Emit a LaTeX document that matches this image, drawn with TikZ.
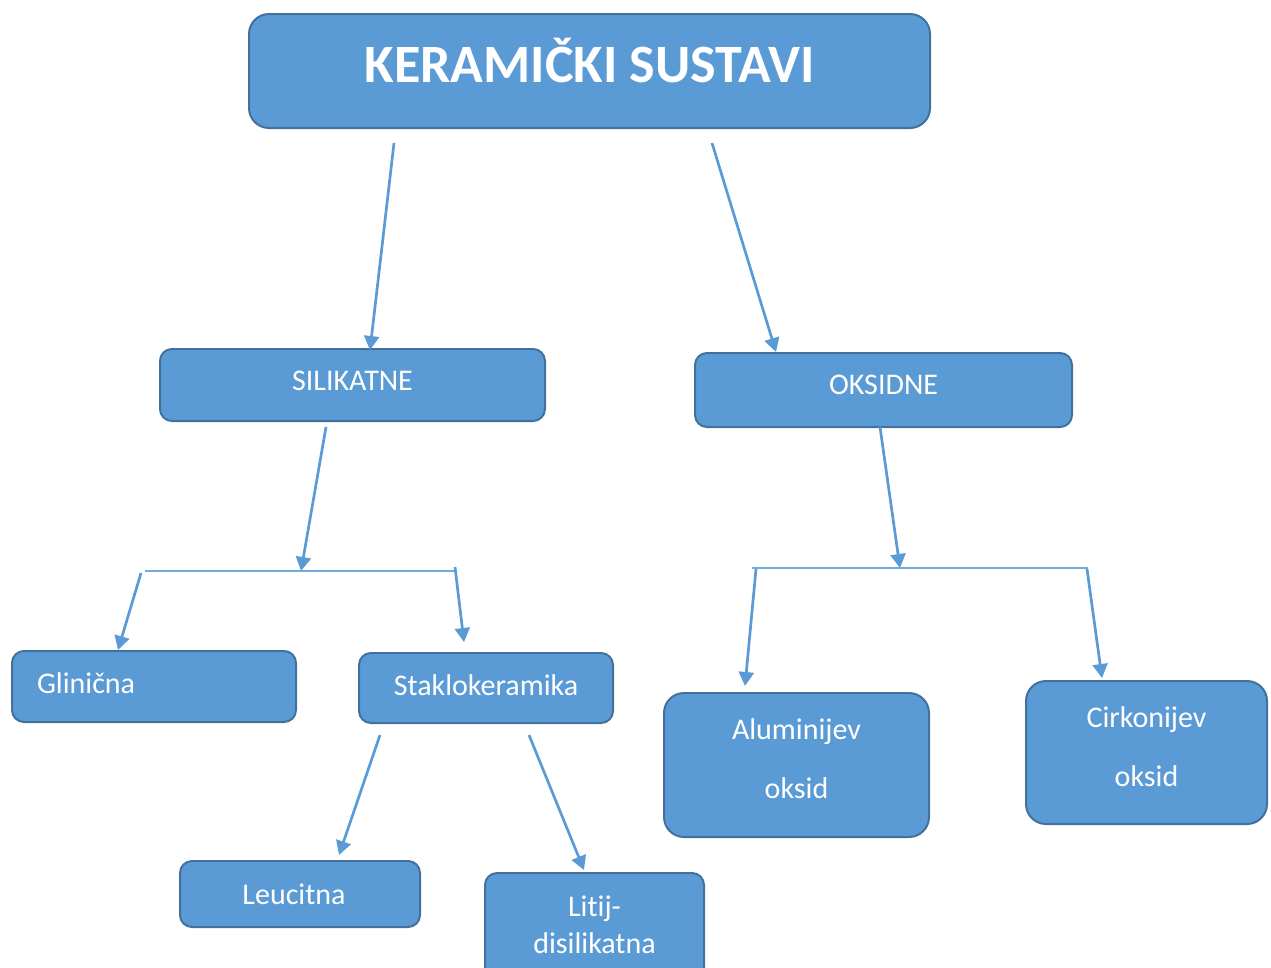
\documentclass[tikz,border=0pt]{standalone}
\usepackage{fontspec}
\setmainfont{Carlito}[Ligatures={NoCommon}]
\usepackage{tikz}
\usetikzlibrary{arrows.meta, positioning, calc}

\definecolor{boxfill}{HTML}{5B9BD5}
\definecolor{boxedge}{HTML}{41719C}
\definecolor{linkblue}{HTML}{5B9BD5}

\begin{document}
\begin{tikzpicture}[
    x=1pt, y=-1pt,
    % --- Global Styles ---
    box/.style={draw=boxedge, fill=boxfill, line width=2pt, rounded corners=12pt, anchor=north west,
        text=white, align=center, inner sep=0pt, font=\fontsize{30}{35}\selectfont},
    titlebox/.style={box, rounded corners=20pt, font=\fontsize{54}{60}\selectfont\bfseries},
    tallbox/.style={box, rounded corners=20pt, font=\fontsize{30}{59}\selectfont},
    link/.style={-{Triangle[length=14pt, width=15pt]}, line width=2.7pt, draw=linkblue},
    bar/.style={line width=1.4pt, draw=linkblue!85}
]

    % --- Page ---
    \useasboundingbox (0,0) rectangle (1271,967);
    \clip (0,0) rectangle (1271,967);

    % --- Boxes ---
    \node[titlebox, minimum width=681pt, minimum height=114pt, text height=35pt, text depth=13pt] (title) at (248,13) {KERAMI\v{C}KI SUSTAVI};

    \node[box, minimum width=385pt, minimum height=72pt, text depth=8pt] (sil) at (159,348) {SILIKATNE};
    \node[box, minimum width=377pt, minimum height=74pt, text depth=10pt] (oks) at (694,352) {OKSIDNE};

    \node[box, minimum width=284pt, minimum height=71pt, text width=234pt, align=left, text depth=6pt] (glin) at (11,650) {Glini\v{c}na};
    \node[box, minimum width=254pt, minimum height=70pt, text depth=6pt] (stak) at (358,652) {Staklokeramika};

    \node[tallbox, minimum width=265pt, minimum height=144pt, text depth=12pt] (alu) at (663,692) {Aluminijev\\oksid};
    \node[tallbox, minimum width=241pt, minimum height=143pt, text depth=12pt] (cirk) at (1025,680) {Cirkonijev\\oksid};

    \node[box, minimum width=240pt, minimum height=66pt, text width=228pt] (leuc) at (179,860) {Leucitna\hspace*{12pt}};
    \node[box, minimum width=219pt, minimum height=108pt, font=\fontsize{30}{37}\selectfont, text depth=4pt] (lit) at (484,872) {Litij-\\disilikatna};

    % --- Free ends of the connectors ---
    \coordinate (tS) at (394,143);
    \coordinate (tO) at (712,143);
    \coordinate (sOut) at (326,427);
    \coordinate (oOut) at (880,427);
    \coordinate (lbarW) at (145,571);
    \coordinate (lbarE) at (455,571);
    \coordinate (lbarM) at (301,571);
    \coordinate (rbarW) at (752,568);
    \coordinate (rbarE) at (1088,568);
    \coordinate (rbarM) at (900,568);
    \coordinate (kOutL) at (380,735);
    \coordinate (kOutR) at (529,735);

    % --- Branch bars ---
    \draw[bar] (lbarW) -- (lbarE);
    \draw[bar] (rbarW) -- (rbarE);

    % --- Connectors ---
    \draw[link] (tS) -- ($(sil.north west)+(211,2)$);
    \draw[link] (tO) -- ($(oks.north west)+(82,0)$);

    \draw[link] (sOut) -- (lbarM);
    \draw[link] ($(lbarW)+(-4,2)$) -- ($(glin.north west)+(107,0)$);
    \draw[link] ($(lbarE)+(0,-4)$) -- ($(stak.north west)+(106,-10)$);

    \draw[link] (kOutL) -- ($(leuc.north west)+(160,-5)$);
    \draw[link] (kOutR) -- ($(lit.north west)+(100,-2)$);

    \draw[link] (oOut) -- (rbarM);
    \draw[link] ($(rbarW)+(4,1)$) -- ($(alu.north west)+(82,-6)$);
    \draw[link] ($(rbarE)+(-1,1)$) -- ($(cirk.north west)+(77,-2)$);

\end{tikzpicture}
\end{document}
